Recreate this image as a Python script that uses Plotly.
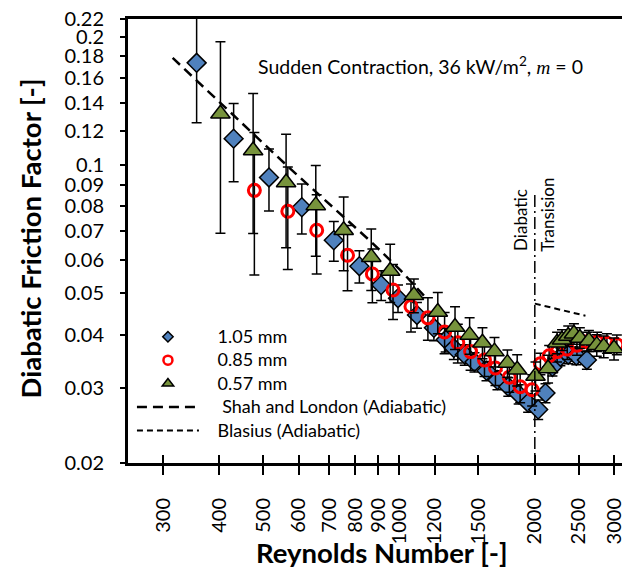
import plotly.graph_objects as go
import math

# ---------------- data ----------------
re_105 = [356, 430, 515, 609, 717, 817, 913, 995, 1096, 1195, 1269, 1323, 1399,
          1470, 1563, 1653, 1747, 1842, 1933, 2035, 2112, 2188, 2279, 2372, 2472, 2609]
f_105 = [0.1736, 0.1153, 0.0935, 0.0796, 0.0666, 0.0579, 0.0523, 0.0487, 0.0445,
         0.0415, 0.0389, 0.0372, 0.0359, 0.0345, 0.0329, 0.0313, 0.0302, 0.0290,
         0.0277, 0.0267, 0.0292, 0.0336, 0.0355, 0.0359, 0.0357, 0.0349]
err_105 = [0.048, 0.024, 0.0155, 0.0107, 0.0071, 0.0050, 0.0042, 0.0036, 0.0031,
           0.0028, 0.0025, 0.0022, 0.0020, 0.0018, 0.0017, 0.0016, 0.0015, 0.0015,
           0.0014, 0.0014, 0.0015, 0.0016, 0.0017, 0.0017, 0.0017, 0.0017]

re_085 = [478, 567, 657, 769, 873, 970, 1063, 1159, 1262, 1350, 1441, 1547, 1636,
          1756, 1856, 1973, 2058, 2152, 2241, 2360, 2480, 2610, 2750, 2890, 3040]
f_085 = [0.0872, 0.0779, 0.0703, 0.0614, 0.0555, 0.0509, 0.0466, 0.0438, 0.0406,
         0.0383, 0.0365, 0.0349, 0.0334, 0.0318, 0.0302, 0.0297, 0.0342, 0.0357,
         0.0365, 0.0370, 0.0378, 0.0385, 0.0385, 0.0382, 0.0379]
err_085 = [0.032, 0.021, 0.0148, 0.0107, 0.0080, 0.0075, 0.0060, 0.0050, 0.0045,
           0.0040, 0.0035, 0.0030, 0.0030, 0.0025, 0.0025, 0.0025, 0.0020, 0.0020,
           0.0020, 0.0020, 0.0020, 0.0020, 0.0020, 0.0020, 0.0020]

re_057 = [402, 475, 562, 654, 754, 868, 956, 1079, 1219, 1331, 1434, 1531, 1628,
          1739, 1828, 2007, 2140, 2241, 2298, 2372, 2442, 2517, 2636, 2744, 2843, 2997]
f_057 = [0.1319, 0.1081, 0.0910, 0.0804, 0.0703, 0.0608, 0.0564, 0.0495, 0.0452,
         0.0417, 0.0399, 0.0383, 0.0365, 0.0343, 0.0331, 0.0320, 0.0333, 0.0383,
         0.0389, 0.0397, 0.0402, 0.0393, 0.0387, 0.0378, 0.0375, 0.0371]
err_057 = [0.0627, 0.039, 0.027, 0.0193, 0.0138, 0.0100, 0.0088, 0.0045, 0.0050,
           0.0048, 0.0039, 0.0032, 0.0029, 0.0025, 0.0028, 0.0025, 0.0025, 0.0022,
           0.0022, 0.0022, 0.0022, 0.0022, 0.0022, 0.0022, 0.0022, 0.0022]

re_shah = [315, 570, 868, 1007, 1160]
f_shah = [0.1783, 0.0987, 0.0660, 0.0567, 0.0482]

re_blasius = [2000, 2590]
f_blasius = [0.0473, 0.0443]

re_transition = [2000, 2000]
f_transition = [0.085, 0.02]

x_tickvals = [300, 400, 500, 600, 700, 800, 900, 1000, 1200, 1500, 2000, 2500, 3000]
x_ticktext = [str(v) for v in x_tickvals]
y_tickvals = [0.02, 0.03, 0.04, 0.05, 0.06, 0.07, 0.08, 0.09, 0.1, 0.12, 0.14,
              0.16, 0.18, 0.2, 0.22]
y_ticktext = ["0.02", "0.03", "0.04", "0.05", "0.06", "0.07", "0.08", "0.09", "0.1",
              "0.12", "0.14", "0.16", "0.18", "0.2", "0.22"]

legend_names = ["1.05 mm", "0.85 mm", "0.57 mm",
                "Shah and London (Adiabatic)", "Blasius (Adiabatic)"]

# ---------------- styles ----------------
FONT = "Lato"
BLUE = "#4F81BD"
GREEN = "#77933C"
RED = "#FF0000"


def lname(s, extra=""):
    return "<span style='font-size:18px'>\u2002\u00a0" + extra + s + "</span>"


fig = go.Figure()


def err(arr):
    return dict(type="data", array=arr, visible=True, color="black",
                thickness=1.5, width=5)


fig.add_trace(go.Scatter(
    x=re_105, y=f_105, mode="markers", showlegend=False,
    error_y=err(err_105),
    marker=dict(symbol="diamond", size=14.5, color=BLUE,
                line=dict(color="black", width=1.5))))
fig.add_trace(go.Scatter(
    x=re_085, y=f_085, mode="markers", showlegend=False,
    error_y=err(err_085),
    marker=dict(symbol="circle-open", size=12, color=RED,
                line=dict(color=RED, width=3))))
fig.add_trace(go.Scatter(
    x=re_057, y=f_057, mode="markers", showlegend=False,
    error_y=err(err_057),
    marker=dict(symbol="triangle-up", size=17, color=GREEN,
                line=dict(color="black", width=1.5))))

fig.add_trace(go.Scatter(
    x=re_shah, y=f_shah, mode="lines", showlegend=False,
    line=dict(color="black", width=2.5, dash="10px,6px")))
fig.add_trace(go.Scatter(
    x=re_blasius, y=f_blasius, mode="lines", showlegend=False,
    line=dict(color="black", width=2, dash="6px,4px")))
fig.add_trace(go.Scatter(
    x=re_transition, y=f_transition, mode="lines", showlegend=False,
    line=dict(color="black", width=1.5, dash="12px,4px,2px,4px")))

# legend-only entries
fig.add_trace(go.Scatter(x=[None], y=[None], mode="markers", name=lname(legend_names[0]),
    marker=dict(symbol="diamond", size=8, color=BLUE, line=dict(color="black", width=1.5))))
fig.add_trace(go.Scatter(x=[None], y=[None], mode="markers", name=lname(legend_names[1]),
    marker=dict(symbol="circle-open", size=9, color=RED, line=dict(color=RED, width=2.5))))
fig.add_trace(go.Scatter(x=[None], y=[None], mode="markers", name=lname(legend_names[2]),
    marker=dict(symbol="triangle-up", size=10, color=GREEN, line=dict(color="black", width=1.5))))
fig.add_trace(go.Scatter(x=[None], y=[None], mode="lines",
    name=lname(legend_names[3], "\u00a0"),
    line=dict(color="black", width=2.5, dash="10px,6px")))
fig.add_trace(go.Scatter(x=[None], y=[None], mode="lines",
    name=lname(legend_names[4]),
    line=dict(color="black", width=2, dash="6px,4px")))

fig.update_layout(
    width=625, height=569,
    margin=dict(l=128, r=0, t=18.5, b=106, pad=0),
    paper_bgcolor="white", plot_bgcolor="white",
    font=dict(family=FONT, size=20, color="black"),
    showlegend=True,
    legend=dict(x=0.008, y=0.322, xanchor="left", yanchor="top",
                bgcolor="rgba(0,0,0,0)", font=dict(size=15.7),
                itemwidth=62, tracegroupgap=0),
    xaxis=dict(type="log", range=[math.log10(250.8), 3.4943],
               tickmode="array", tickvals=x_tickvals, ticktext=x_ticktext,
               tickangle=-90, ticks="outside", ticklen=9, tickwidth=1.5,
               tickcolor="black", ticklabelstandoff=15,
               ticklabeloverflow="allow",
               minor=dict(tickmode="array", tickvals=x_tickvals, ticks="inside",
                          ticklen=8, tickwidth=1.5, tickcolor="black"),
               showline=True, linewidth=3, linecolor="black", mirror=True,
               showgrid=False, zeroline=False,
               tickfont=dict(size=20)),
    yaxis=dict(type="log", range=[math.log10(0.02), math.log10(0.22)],
               tickmode="array", tickvals=y_tickvals, ticktext=y_ticktext,
               ticks="outside", ticklen=5, tickwidth=1.5, tickcolor="black",
               ticklabelstandoff=12,
               showline=True, linewidth=3, linecolor="black",
               showgrid=False, zeroline=False,
               tickfont=dict(size=20)),
    annotations=[
        dict(text="<b>Reynolds Number [-]</b>", xref="paper", yref="paper",
             x=0.514, y=-0.2025, xanchor="center", yanchor="middle",
             showarrow=False, font=dict(size=27.5)),
        dict(text="<b>Diabatic Friction Factor [-]</b>", xref="paper", yref="paper",
             x=-0.197, y=0.505, xanchor="center", yanchor="middle", textangle=-90,
             showarrow=False, font=dict(size=27.5)),
        dict(text="Sudden Contraction, 36 kW/m<sup>2</sup>, "
                  "<i><span style='font-family:Liberation Serif'>m</span></i> = 0",
             xref="paper", yref="paper", x=0.5926, y=0.8954,
             xanchor="center", yanchor="middle", showarrow=False,
             font=dict(size=19.5)),
        dict(text="Diabatic", xref="paper", yref="paper", x=0.7948, y=0.4724,
             xanchor="center", yanchor="bottom", textangle=-90, showarrow=False,
             font=dict(size=17)),
        dict(text="Transision", xref="paper", yref="paper", x=0.8491, y=0.4724,
             xanchor="center", yanchor="bottom", textangle=-90, showarrow=False,
             font=dict(size=17)),
    ],
)

fig.write_html("out.html")
